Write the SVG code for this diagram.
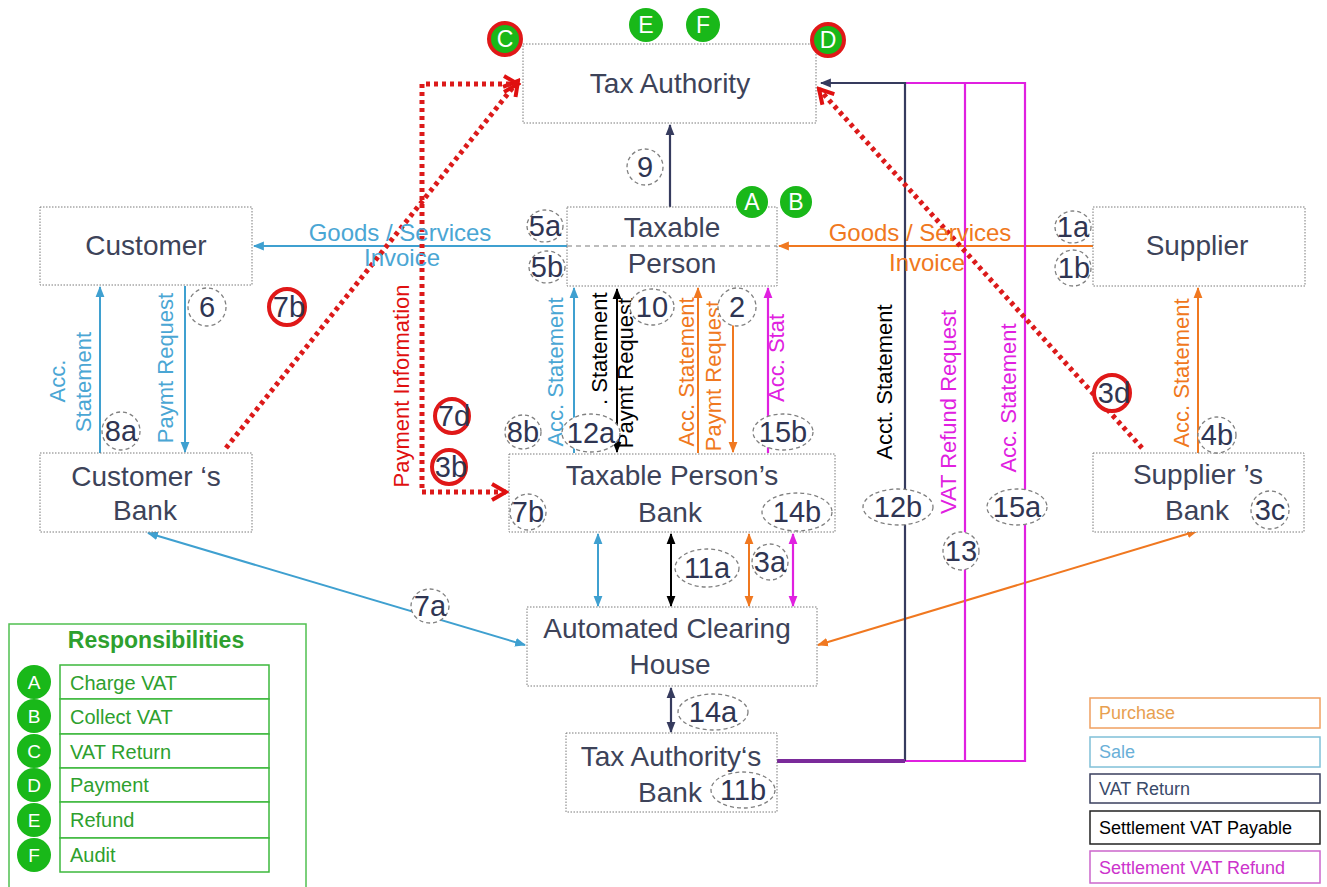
<svg xmlns="http://www.w3.org/2000/svg" width="1327" height="887" viewBox="0 0 1327 887">
<style>
text{font-family:"Liberation Sans",Arial,sans-serif}
.box{fill:#fff;stroke:#7a7a7a;stroke-width:1;stroke-dasharray:1.5 1.5}
.nt{font-size:28px;fill:#3d4359;text-anchor:middle}
.num{font-size:29px;fill:#2f3552;text-anchor:middle}
.dc{fill:#fff;stroke:#808080;stroke-width:1.3;stroke-dasharray:4 3}
.rc{fill:#fff;stroke:#e01818;stroke-width:4}
.gb{fill:#19b819}
.gt{font-size:23px;fill:#fff;text-anchor:middle}
.rl{font-size:22px;text-anchor:middle}
.blue{stroke:#3fa0d0;stroke-width:2;fill:none}
.org{stroke:#f07820;stroke-width:2;fill:none}
.nav{stroke:#363b5e;stroke-width:2.2;fill:none}
.blk{stroke:#000;stroke-width:2;fill:none}
.mag{stroke:#e020e0;stroke-width:2.2;fill:none}
.red{stroke:#dc1a1a;stroke-width:5;fill:none;stroke-dasharray:4 4}
.lg{font-size:20px;fill:#2ea02e}
.lgb{fill:#fff;stroke:#3cb83c;stroke-width:1.5}
.kt{font-size:18px}
</style>
<defs>
<marker id="ab" viewBox="0 0 10 10" refX="9" refY="5" markerWidth="11" markerHeight="11" markerUnits="userSpaceOnUse" orient="auto-start-reverse"><path d="M0,1 L10,5 L0,9 z" fill="#3fa0d0"/></marker>
<marker id="ao" viewBox="0 0 10 10" refX="9" refY="5" markerWidth="11" markerHeight="11" markerUnits="userSpaceOnUse" orient="auto-start-reverse"><path d="M0,1 L10,5 L0,9 z" fill="#f07820"/></marker>
<marker id="an" viewBox="0 0 10 10" refX="9" refY="5" markerWidth="11" markerHeight="11" markerUnits="userSpaceOnUse" orient="auto-start-reverse"><path d="M0,1 L10,5 L0,9 z" fill="#363b5e"/></marker>
<marker id="ak" viewBox="0 0 10 10" refX="9" refY="5" markerWidth="11" markerHeight="11" markerUnits="userSpaceOnUse" orient="auto-start-reverse"><path d="M0,1 L10,5 L0,9 z" fill="#000"/></marker>
<marker id="am" viewBox="0 0 10 10" refX="9" refY="5" markerWidth="11" markerHeight="11" markerUnits="userSpaceOnUse" orient="auto-start-reverse"><path d="M0,1 L10,5 L0,9 z" fill="#e020e0"/></marker>
<marker id="ar" viewBox="0 0 20 20" refX="17" refY="10" markerWidth="20" markerHeight="20" markerUnits="userSpaceOnUse" orient="auto-start-reverse"><path d="M3,2 L17,10 L3,18" fill="none" stroke="#e01010" stroke-width="4"/></marker>
</defs>
<rect width="1327" height="887" fill="#fff"/>

<g id="connectors">
<path class="blue" d="M567,246 H254" marker-end="url(#ab)"/>
<path class="org" d="M1093,246 H779" marker-end="url(#ao)"/>
<path class="nav" d="M670,207 V125" marker-end="url(#an)"/>
<path class="blue" d="M100,453 V287" marker-end="url(#ab)"/>
<path class="blue" d="M185,286 V452" marker-end="url(#ab)"/>
<path class="blue" d="M574,453 V288" marker-end="url(#ab)"/>
<path class="blk" d="M617,289 V452" marker-start="url(#ak)" marker-end="url(#ak)"/>
<path class="org" d="M698,453 V288" marker-end="url(#ao)"/>
<path class="org" d="M733,288 V452" marker-end="url(#ao)"/>
<path class="mag" d="M768,453 V288" marker-end="url(#am)"/>
<path class="org" d="M1198,453 V288" marker-end="url(#ao)"/>
<path class="blue" d="M598,534 V606" marker-start="url(#ab)" marker-end="url(#ab)"/>
<path class="blk" d="M671,534 V606" marker-start="url(#ak)" marker-end="url(#ak)"/>
<path class="org" d="M749,534 V606" marker-start="url(#ao)" marker-end="url(#ao)"/>
<path class="mag" d="M793,534 V606" marker-start="url(#am)" marker-end="url(#am)"/>
<path class="nav" d="M671,688 V732" marker-start="url(#an)" marker-end="url(#an)"/>
<path class="blue" d="M148,533 L525,645" marker-start="url(#ab)" marker-end="url(#ab)"/>
<path class="org" d="M1197,531 L818,645" marker-start="url(#ao)" marker-end="url(#ao)"/>
<path class="mag" d="M905,761 H1025 V83 H905"/>
<path class="mag" d="M965,83 V761"/>
<path class="nav" d="M905,761 V83 H821" marker-end="url(#an)"/>
<path d="M777,761 H905" stroke="#7a2a9a" stroke-width="4" fill="none"/>
<path class="red" d="M226,448 L518,81" marker-end="url(#ar)"/>
<path class="red" d="M518,84 H422 V492 H506" marker-start="url(#ar)" marker-end="url(#ar)"/>
<path class="red" d="M1142,448 L819,89" marker-end="url(#ar)"/>
<path d="M574,497 H627 M601,497 V526" stroke="#e01010" stroke-width="4" fill="none"/>
</g>

<g id="edge-labels">
<text x="400" y="241" font-size="24" fill="#4aa6d4" text-anchor="middle">Goods / Services</text>
<text x="402" y="266" font-size="24" fill="#4aa6d4" text-anchor="middle">Invoice</text>
<text x="920" y="241" font-size="24" fill="#f07820" text-anchor="middle">Goods / Services</text>
<text x="927" y="271" font-size="24" fill="#f07820" text-anchor="middle">Invoice</text>
<text class="rl" transform="translate(65,381) rotate(-90)" fill="#4aa6d4">Acc.</text>
<text class="rl" transform="translate(91,382) rotate(-90)" fill="#4aa6d4">Statement</text>
<text class="rl" transform="translate(173,368) rotate(-90)" fill="#4aa6d4">Paymt Request</text>
<text class="rl" transform="translate(409,386) rotate(-90)" fill="#e01010">Payment Information</text>
<text class="rl" transform="translate(563,372) rotate(-90)" fill="#4aa6d4">Acc. Statement</text>
<text font-size="22" transform="translate(607,405) rotate(-90)" fill="#000">. Statement</text>
<text class="rl" transform="translate(633,373) rotate(-90)" fill="#000">Paymt Request</text>
<text class="rl" transform="translate(694,372) rotate(-90)" fill="#f07820">Acc. Statement</text>
<text class="rl" transform="translate(721,376) rotate(-90)" fill="#f07820">Paymt Request</text>
<text class="rl" transform="translate(784,358) rotate(-90)" fill="#e020e0">Acc. Stat</text>
<text class="rl" transform="translate(892,382) rotate(-90)" fill="#000">Acct. Statement</text>
<text class="rl" transform="translate(956,412) rotate(-90)" fill="#e020e0">VAT Refund  Request</text>
<text class="rl" transform="translate(1016,398) rotate(-90)" fill="#e020e0">Acc. Statement</text>
<text class="rl" transform="translate(1189,373) rotate(-90)" fill="#f07820">Acc. Statement</text>
</g>

<g id="tax-authority">
<rect class="box" x="523" y="44" width="293" height="79"/>
<text class="nt" x="670" y="93">Tax Authority</text>
</g>
<g id="taxable-person">
<rect class="box" x="567" y="207" width="210" height="79"/>
<path d="M567,246 H777" stroke="#7a7a7a" stroke-width="1.2" stroke-dasharray="5 4"/>
<text class="nt" x="672" y="237">Taxable</text>
<text class="nt" x="672" y="273">Person</text>
</g>
<g id="customer">
<rect class="box" x="40" y="207" width="212" height="78"/>
<text class="nt" x="146" y="255">Customer</text>
</g>
<g id="supplier">
<rect class="box" x="1093" y="207" width="212" height="79"/>
<text class="nt" x="1197" y="255">Supplier</text>
</g>
<g id="customers-bank">
<rect class="box" x="40" y="453" width="212" height="79"/>
<text class="nt" x="146" y="486">Customer ‘s</text>
<text class="nt" x="145" y="520">Bank</text>
</g>
<g id="taxable-persons-bank">
<rect class="box" x="509" y="454" width="326" height="78"/>
<text class="nt" x="672" y="485">Taxable Person’s</text>
<text class="nt" x="670" y="522">Bank</text>
</g>
<g id="suppliers-bank">
<rect class="box" x="1093" y="453" width="211" height="79"/>
<text class="nt" x="1198" y="484">Supplier ’s</text>
<text class="nt" x="1197" y="520">Bank</text>
</g>
<g id="clearing-house">
<rect class="box" x="527" y="607" width="290" height="79"/>
<text class="nt" x="667" y="638">Automated Clearing</text>
<text class="nt" x="670" y="674">House</text>
</g>
<g id="tax-authority-bank">
<rect class="box" x="566" y="733" width="211" height="79"/>
<text class="nt" x="671" y="766">Tax Authority‘s</text>
<text class="nt" x="670" y="802">Bank</text>
</g>

<g id="step-labels">
<ellipse class="dc" cx="645" cy="167" rx="18" ry="18"/><text class="num" x="645" y="177">9</text>
<ellipse class="dc" cx="545" cy="226" rx="18" ry="16"/><text class="num" x="545" y="236">5a</text>
<ellipse class="dc" cx="547" cy="267" rx="18" ry="16"/><text class="num" x="547" y="277">5b</text>
<ellipse class="dc" cx="1073" cy="227" rx="18" ry="16"/><text class="num" x="1073" y="237">1a</text>
<ellipse class="dc" cx="1073" cy="268" rx="18" ry="18"/><text class="num" x="1074" y="278">1b</text>
<ellipse class="dc" cx="207" cy="307" rx="19" ry="19"/><text class="num" x="207" y="317">6</text>
<ellipse class="dc" cx="121" cy="431" rx="19" ry="19"/><text class="num" x="121" y="441">8a</text>
<ellipse class="dc" cx="652" cy="307" rx="22" ry="18"/><text class="num" x="652" y="317">10</text>
<ellipse class="dc" cx="737" cy="307" rx="19" ry="19"/><text class="num" x="737" y="317">2</text>
<ellipse class="dc" cx="523" cy="432" rx="18" ry="17"/><text class="num" x="523" y="442">8b</text>
<ellipse class="dc" cx="591" cy="433" rx="29" ry="19"/><text class="num" x="591" y="443">12a</text>
<ellipse class="dc" cx="783" cy="432" rx="30" ry="18"/><text class="num" x="783" y="442">15b</text>
<ellipse class="dc" cx="528" cy="512" rx="18" ry="18"/><text class="num" x="528" y="522">7b</text>
<ellipse class="dc" cx="797" cy="512" rx="35" ry="19"/><text class="num" x="797" y="522">14b</text>
<ellipse class="dc" cx="707" cy="568" rx="32" ry="19"/><text class="num" x="707" y="578">11a</text>
<ellipse class="dc" cx="770" cy="562" rx="18" ry="18"/><text class="num" x="770" y="572">3a</text>
<ellipse class="dc" cx="430" cy="606" rx="19" ry="17"/><text class="num" x="430" y="616">7a</text>
<ellipse class="dc" cx="713" cy="712" rx="35" ry="18"/><text class="num" x="713" y="722">14a</text>
<ellipse class="dc" cx="743" cy="790" rx="32" ry="18"/><text class="num" x="743" y="800">11b</text>
<ellipse class="dc" cx="898" cy="507" rx="35" ry="18"/><text class="num" x="898" y="517">12b</text>
<ellipse class="dc" cx="961" cy="551" rx="18" ry="19"/><text class="num" x="961" y="561">13</text>
<ellipse class="dc" cx="1017" cy="507" rx="30" ry="18"/><text class="num" x="1017" y="517">15a</text>
<ellipse class="dc" cx="1217" cy="435" rx="19" ry="18"/><text class="num" x="1217" y="445">4b</text>
<ellipse class="dc" cx="1270" cy="510" rx="19" ry="19"/><text class="num" x="1270" y="520">3c</text>
<circle class="rc" cx="287" cy="307" r="18"/><text class="num" x="289" y="317">7b</text>
<circle class="rc" cx="452" cy="416" r="17"/><text class="num" x="454" y="426">7d</text>
<circle class="rc" cx="449" cy="467" r="17"/><text class="num" x="451" y="477">3b</text>
<circle class="rc" cx="1112" cy="393" r="18"/><text class="num" x="1114" y="403">3d</text>
</g>

<g id="badges">
<circle class="gb" cx="505" cy="39" r="16" stroke="#e01818" stroke-width="4"/><text class="gt" x="505" y="47">C</text>
<circle class="gb" cx="646" cy="25" r="17"/><text class="gt" x="646" y="33">E</text>
<circle class="gb" cx="703" cy="25" r="17"/><text class="gt" x="703" y="33">F</text>
<circle class="gb" cx="828" cy="40" r="16" stroke="#e01818" stroke-width="4"/><text class="gt" x="828" y="48">D</text>
<circle class="gb" cx="752" cy="202" r="16"/><text class="gt" x="752" y="210">A</text>
<circle class="gb" cx="796" cy="202" r="16"/><text class="gt" x="796" y="210">B</text>
</g>

<g id="responsibilities">
<rect x="9" y="624" width="297" height="270" fill="#fff" stroke="#50c050" stroke-width="1.5"/>
<text x="156" y="648" font-size="23" font-weight="bold" fill="#2ea02e" text-anchor="middle">Responsibilities</text>
<rect class="lgb" x="60" y="665" width="209" height="34"/>
<rect class="lgb" x="60" y="699" width="209" height="35"/>
<rect class="lgb" x="60" y="734" width="209" height="34"/>
<rect class="lgb" x="60" y="768" width="209" height="34"/>
<rect class="lgb" x="60" y="802" width="209" height="36"/>
<rect class="lgb" x="60" y="838" width="209" height="34"/>
<text class="lg" x="70" y="690">Charge VAT</text>
<text class="lg" x="70" y="724">Collect VAT</text>
<text class="lg" x="70" y="759">VAT Return</text>
<text class="lg" x="70" y="792">Payment</text>
<text class="lg" x="70" y="827">Refund</text>
<text class="lg" x="70" y="862">Audit</text>
<circle class="gb" cx="34" cy="682" r="17"/><text x="34" y="689" font-size="19" fill="#fff" text-anchor="middle">A</text>
<circle class="gb" cx="34" cy="716" r="17"/><text x="34" y="723" font-size="19" fill="#fff" text-anchor="middle">B</text>
<circle class="gb" cx="34" cy="751" r="17"/><text x="34" y="758" font-size="19" fill="#fff" text-anchor="middle">C</text>
<circle class="gb" cx="34" cy="785" r="17"/><text x="34" y="792" font-size="19" fill="#fff" text-anchor="middle">D</text>
<circle class="gb" cx="34" cy="820" r="17"/><text x="34" y="827" font-size="19" fill="#fff" text-anchor="middle">E</text>
<circle class="gb" cx="34" cy="855" r="17"/><text x="34" y="862" font-size="19" fill="#fff" text-anchor="middle">F</text>
</g>

<g id="flow-legend">
<rect x="1090" y="698" width="230" height="30" fill="#fff" stroke="#f0a060" stroke-width="1.5"/>
<text class="kt" x="1099" y="719" fill="#e8a050">Purchase</text>
<rect x="1090" y="737" width="230" height="30" fill="#fff" stroke="#80c0d8" stroke-width="1.5"/>
<text class="kt" x="1099" y="758" fill="#6ab0d8">Sale</text>
<rect x="1090" y="774" width="230" height="29" fill="#fff" stroke="#3a3f5e" stroke-width="1.5"/>
<text class="kt" x="1099" y="795" fill="#3a4a6a">VAT Return</text>
<rect x="1090" y="811" width="230" height="33" fill="#fff" stroke="#222" stroke-width="1.5"/>
<text class="kt" x="1099" y="834" fill="#000">Settlement VAT Payable</text>
<rect x="1090" y="851" width="230" height="32" fill="#fff" stroke="#cc66cc" stroke-width="1.5"/>
<text class="kt" x="1099" y="874" fill="#cc33cc">Settlement VAT Refund</text>
</g>
</svg>
